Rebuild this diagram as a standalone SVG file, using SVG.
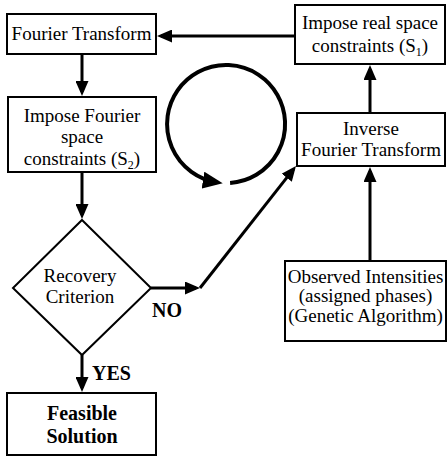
<svg xmlns="http://www.w3.org/2000/svg" width="448" height="460" viewBox="0 0 448 460">
<style>
.box{fill:#fff;stroke:#000;stroke-width:2}
.t{font-family:"Liberation Serif","Times New Roman",serif;font-size:19px;fill:#000;text-anchor:middle}
.b{font-family:"Liberation Serif","Times New Roman",serif;font-size:20px;font-weight:bold;fill:#000}
.c{fill:none;stroke:#000;stroke-width:3}
.sub{font-size:12px}
</style>
<defs>
<marker id="ah" viewBox="0 0 15 13" refX="11" refY="6.5" markerWidth="15" markerHeight="13" markerUnits="userSpaceOnUse" orient="auto">
<path d="M0,0 L15,6.5 L0,13 z" fill="#000"/>
</marker>
<marker id="ahc" viewBox="0 0 20 17" refX="14" refY="8.5" markerWidth="20" markerHeight="17" markerUnits="userSpaceOnUse" orient="auto">
<path d="M0,0 L20,8.5 L0,17 z" fill="#000"/>
</marker>
</defs>
<rect width="448" height="460" fill="#fff"/>
<g id="connectors">
<line class="c" x1="295" y1="36" x2="161" y2="36" marker-end="url(#ah)"/>
<line class="c" x1="82" y1="54" x2="82" y2="92" marker-end="url(#ah)"/>
<line class="c" x1="82" y1="172" x2="82" y2="215" marker-end="url(#ah)"/>
<line class="c" x1="82" y1="355" x2="82" y2="388" marker-end="url(#ah)"/>
<line class="c" x1="151" y1="288" x2="196" y2="288" marker-end="url(#ah)"/>
<line class="c" x1="200" y1="288" x2="293.5" y2="169.1" marker-end="url(#ah)"/>
<line class="c" x1="370" y1="261" x2="370" y2="171" marker-end="url(#ah)"/>
<line class="c" x1="370" y1="113" x2="370" y2="69" marker-end="url(#ah)"/>
<path d="M230.1,182.9 A59,59 0 1 0 216.8,182.3" fill="none" stroke="#000" stroke-width="4" marker-end="url(#ahc)"/>
</g>
<g id="fourier-transform">
<rect class="box" x="7" y="14" width="149" height="40"/>
<text class="t" x="81.5" y="40">Fourier Transform</text>
</g>
<g id="impose-real">
<rect class="box" x="295" y="5" width="150" height="59"/>
<text class="t" x="370" y="29">Impose real space</text>
<text class="t" x="370" y="52">constraints (S<tspan class="sub" dy="4">1</tspan><tspan dy="-4">)</tspan></text>
</g>
<g id="impose-fourier">
<rect class="box" x="8" y="97" width="148" height="75"/>
<text class="t" x="82" y="122">Impose Fourier</text>
<text class="t" x="82" y="143">space</text>
<text class="t" x="82" y="165">constraints (S<tspan class="sub" dy="4">2</tspan><tspan dy="-4">)</tspan></text>
</g>
<g id="inverse-ft">
<rect class="box" x="297" y="113" width="148" height="53"/>
<text class="t" x="371" y="135">Inverse</text>
<text class="t" x="371" y="156">Fourier Transform</text>
</g>
<g id="observed">
<rect class="box" x="285" y="261" width="161" height="80"/>
<text class="t" x="365.5" y="283">Observed Intensities</text>
<text class="t" x="365.5" y="302">(assigned phases)</text>
<text class="t" x="365.5" y="322">(Genetic Algorithm)</text>
</g>
<g id="recovery">
<polygon class="box" points="82,220 151,288 82,355 13,288"/>
<text class="t" x="80" y="282">Recovery</text>
<text class="t" x="80" y="303">Criterion</text>
</g>
<g id="feasible">
<rect class="box" x="7" y="393" width="149" height="62"/>
<text class="b" x="82" y="420" text-anchor="middle">Feasible</text>
<text class="b" x="82" y="443" text-anchor="middle">Solution</text>
</g>
<g id="labels">
<text class="b" x="152" y="317">NO</text>
<text class="b" x="92" y="380">YES</text>
</g>
</svg>
